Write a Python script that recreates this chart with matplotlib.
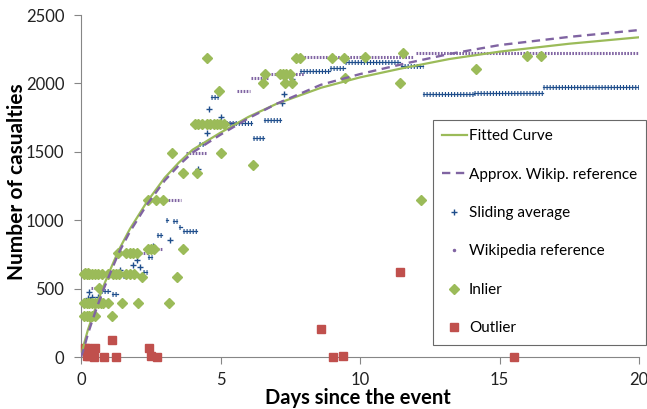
import matplotlib
matplotlib.use("Agg")
import matplotlib.pyplot as plt
from matplotlib.lines import Line2D

plt.rcParams["font.family"] = ["Lato", "DejaVu Sans"]
plt.rcParams["lines.scale_dashes"] = False

GREEN = "#9BBB59"
PURPLE = "#8064A2"
BLUE = "#1F4E8C"
RED = "#C0504D"
GRAY = "#868686"

# fitted curve
fit_x = [0, 0.1, 0.25, 0.42, 0.6, 0.8, 1.0, 1.35, 1.75, 2.35, 3.0, 3.5, 4.0, 5.0, 6.0, 7.0, 8.6, 10, 11.5, 13.2, 15, 17.5, 20]
fit_y = [0, 90, 200, 300, 405, 515, 615, 780, 935, 1130, 1310, 1420, 1515, 1640, 1755, 1850, 1968, 2044, 2110, 2178, 2232, 2290, 2337]

# approx. wikipedia reference (dashed)
approx_x = [0, 0.1, 0.25, 0.42, 0.6, 0.8, 1.0, 1.35, 1.75, 2.35, 3.0, 3.5, 4.0, 5.0, 6.0, 7.0, 8.6, 10, 11.5, 13.2, 15, 17.5, 20]
approx_y = [0, 60, 170, 275, 380, 490, 590, 760, 915, 1110, 1290, 1400, 1495, 1625, 1745, 1850, 1990, 2068, 2140, 2215, 2280, 2340, 2390]

# wikipedia reference: flat runs (start day, end day, value)
wiki_start = [0.35, 1.0, 1.9, 2.4, 2.9, 3.76, 4.6, 5.6, 6.1, 6.8, 8.0, 12.0]
wiki_end = [0.5, 1.9, 2.4, 2.9, 3.6, 4.53, 5.6, 6.05, 6.75, 8.0, 11.95, 20.0]
wiki_val = [505, 612, 760, 790, 1148, 1489, 1710, 1947, 2042, 2069, 2190, 2224]

# sliding average: flat runs + single points
avg_start = [0.7, 1.1, 1.52, 2.23, 2.41, 2.71, 3.05, 3.31, 3.52, 3.67, 4.23, 4.65, 5.2, 6.15, 6.56, 7.85, 8.92, 9.45, 11.46, 12.27, 14.1, 16.55]
avg_end = [1.04, 1.34, 1.76, 2.35, 2.53, 2.89, 3.13, 3.43, 3.61, 4.15, 4.45, 4.9, 6.12, 6.56, 7.16, 8.92, 9.45, 11.43, 12.25, 14.1, 16.55, 20.0]
avg_val = [482, 460, 592, 624, 733, 892, 1001, 994, 952, 923, 1560, 1903, 1710, 1603, 1733, 2091, 2110, 2157, 2127, 1920, 1932, 1976]
avg_px = [0.24, 0.3, 0.41, 0.62, 1.4, 1.88, 2.02, 2.11, 2.59, 3.19, 4.2, 4.5, 4.6, 5.02, 7.19, 7.29, 7.55]
avg_py = [434, 477, 441, 441, 636, 672, 709, 660, 814, 855, 1374, 1635, 1813, 1757, 1855, 1922, 2030]

# inliers
in_x = [0.1, 0.2, 0.3, 0.4, 0.5, 1.1,
        0.1, 0.2, 0.3, 0.4, 0.5, 0.6, 0.7, 0.8, 0.95, 1.47, 2.05, 3.17,
        0.64,
        0.1, 0.2, 0.3, 0.4, 0.5, 0.6, 0.75, 0.97, 1.14, 1.25, 1.37, 1.61, 1.75, 1.91, 0.15, 0.25, 2.2, 3.43,
        1.31, 1.62, 1.75, 1.88, 2.0, 2.4, 2.52, 2.6, 3.67,
        2.39, 2.69, 2.95, 3.25, 5.02, 3.67, 4.15, 6.15,
        4.1, 4.2, 4.35, 4.5, 4.62, 4.75, 4.86, 4.98, 5.13,
        4.96, 4.5, 6.6, 7.15, 7.25, 7.35, 7.5, 6.51, 7.31, 7.55,
        7.7, 7.85, 8.99, 9.44, 9.46, 10.17, 11.53, 11.43, 14.16, 16.0, 16.5, 12.2]
in_y = [300, 300, 300, 300, 300, 300,
        397, 397, 397, 397, 397, 397, 397, 397, 397, 397, 397, 397,
        502,
        605, 605, 605, 605, 605, 605, 605, 605, 605, 605, 605, 605, 605, 605, 615, 615, 587, 587,
        760, 760, 760, 760, 760, 790, 790, 790, 790,
        1148, 1148, 1148, 1489, 1489, 1343, 1343, 1403,
        1705, 1705, 1705, 1705, 1705, 1705, 1705, 1705, 1705,
        1947, 2188, 2069, 2069, 2069, 2069, 2069, 2005, 2005, 2005,
        2188, 2188, 2188, 2188, 2042, 2195, 2224, 2005, 2103, 2203, 2203, 1150]

# outliers
out_x = [0.15, 0.2, 0.25, 0.2, 0.3, 0.5, 0.48, 0.84, 1.12, 1.25, 2.42, 2.5, 2.71, 8.6, 9.03, 9.39, 11.43, 15.53]
out_y = [63, 63, 25, 5, 5, 63, 0, 0, 124, 0, 63, 5, 0, 202, 0, 10, 620, 0]

fig = plt.figure(figsize=(6.47, 4.09), dpi=100)
ax = fig.add_axes([81 / 647, 52 / 409, 558 / 647, 342 / 409])

for s, e, v in zip(wiki_start, wiki_end, wiki_val):
    ax.plot([s, e], [v, v], color=PURPLE, lw=2.2, dashes=(1.2, 1.0), zorder=2)

for s, e, v in zip(avg_start, avg_end, avg_val):
    ax.plot([s, e], [v, v], color=BLUE, lw=0.9, zorder=3)
    ax.plot([s, e], [v, v], color=BLUE, lw=3.6, dashes=(0.8, 1.4), zorder=3)
ax.plot(avg_px, avg_py, "+", color=BLUE, ms=4.5, mew=1, zorder=3)

ax.plot(in_x, in_y, "D", color=GREEN, ms=5, mec=GREEN, zorder=4, clip_on=False)
ax.plot(out_x, out_y, "s", color=RED, ms=5.5, mec=RED, zorder=5, clip_on=False)

ax.plot(fit_x, fit_y, color=GREEN, lw=1.6, zorder=6)
ax.plot(approx_x, approx_y, color=PURPLE, lw=1.7, dashes=(6, 4), zorder=6)

ax.set_xlim(0, 20)
ax.set_ylim(0, 2500)
ax.set_xticks([0, 5, 10, 15, 20])
ax.set_yticks([0, 500, 1000, 1500, 2000, 2500])
for sp in ["top", "right"]:
    ax.spines[sp].set_visible(False)
for sp in ["left", "bottom"]:
    ax.spines[sp].set_color(GRAY)
    ax.spines[sp].set_linewidth(0.8)
ax.tick_params(direction="out", length=5, color=GRAY, labelsize=12, pad=7, labelcolor="#222222")
ax.tick_params(axis="x", pad=6)

ax.set_xlabel("Days since the event", fontsize=14.5, fontweight="bold", va="top")
ax.xaxis.set_label_coords(0.496, -0.0906)
ax.set_ylabel("Number of casualties", fontsize=15, fontweight="bold")
ax.yaxis.set_label_coords(-0.0968, 0.512)

handles = [
    Line2D([], [], color=GREEN, lw=1.6),
    Line2D([], [], color=PURPLE, lw=1.7, dashes=(6, 4)),
    Line2D([], [], color=BLUE, marker="+", ls="none", ms=4, mew=1),
    Line2D([], [], color=PURPLE, marker=".", ls="none", ms=3),
    Line2D([], [], color=GREEN, marker="D", ls="none", ms=5),
    Line2D([], [], color=RED, marker="s", ls="none", ms=5.5),
]
labels = ["Fitted Curve", "Approx. Wikip. reference", "Sliding average",
          "Wikipedia reference", "Inlier", "Outlier"]
leg = fig.legend(handles, labels, loc="upper left", bbox_to_anchor=(433 / 647, 289 / 409),
                 borderaxespad=0, frameon=True, fancybox=False, edgecolor="#444444",
                 fontsize=11, labelspacing=1.6, handlelength=1.6, handletextpad=0.15,
                 borderpad=0.6)
leg.get_frame().set_linewidth(0.8)

fig.savefig("out.png", dpi=100)
